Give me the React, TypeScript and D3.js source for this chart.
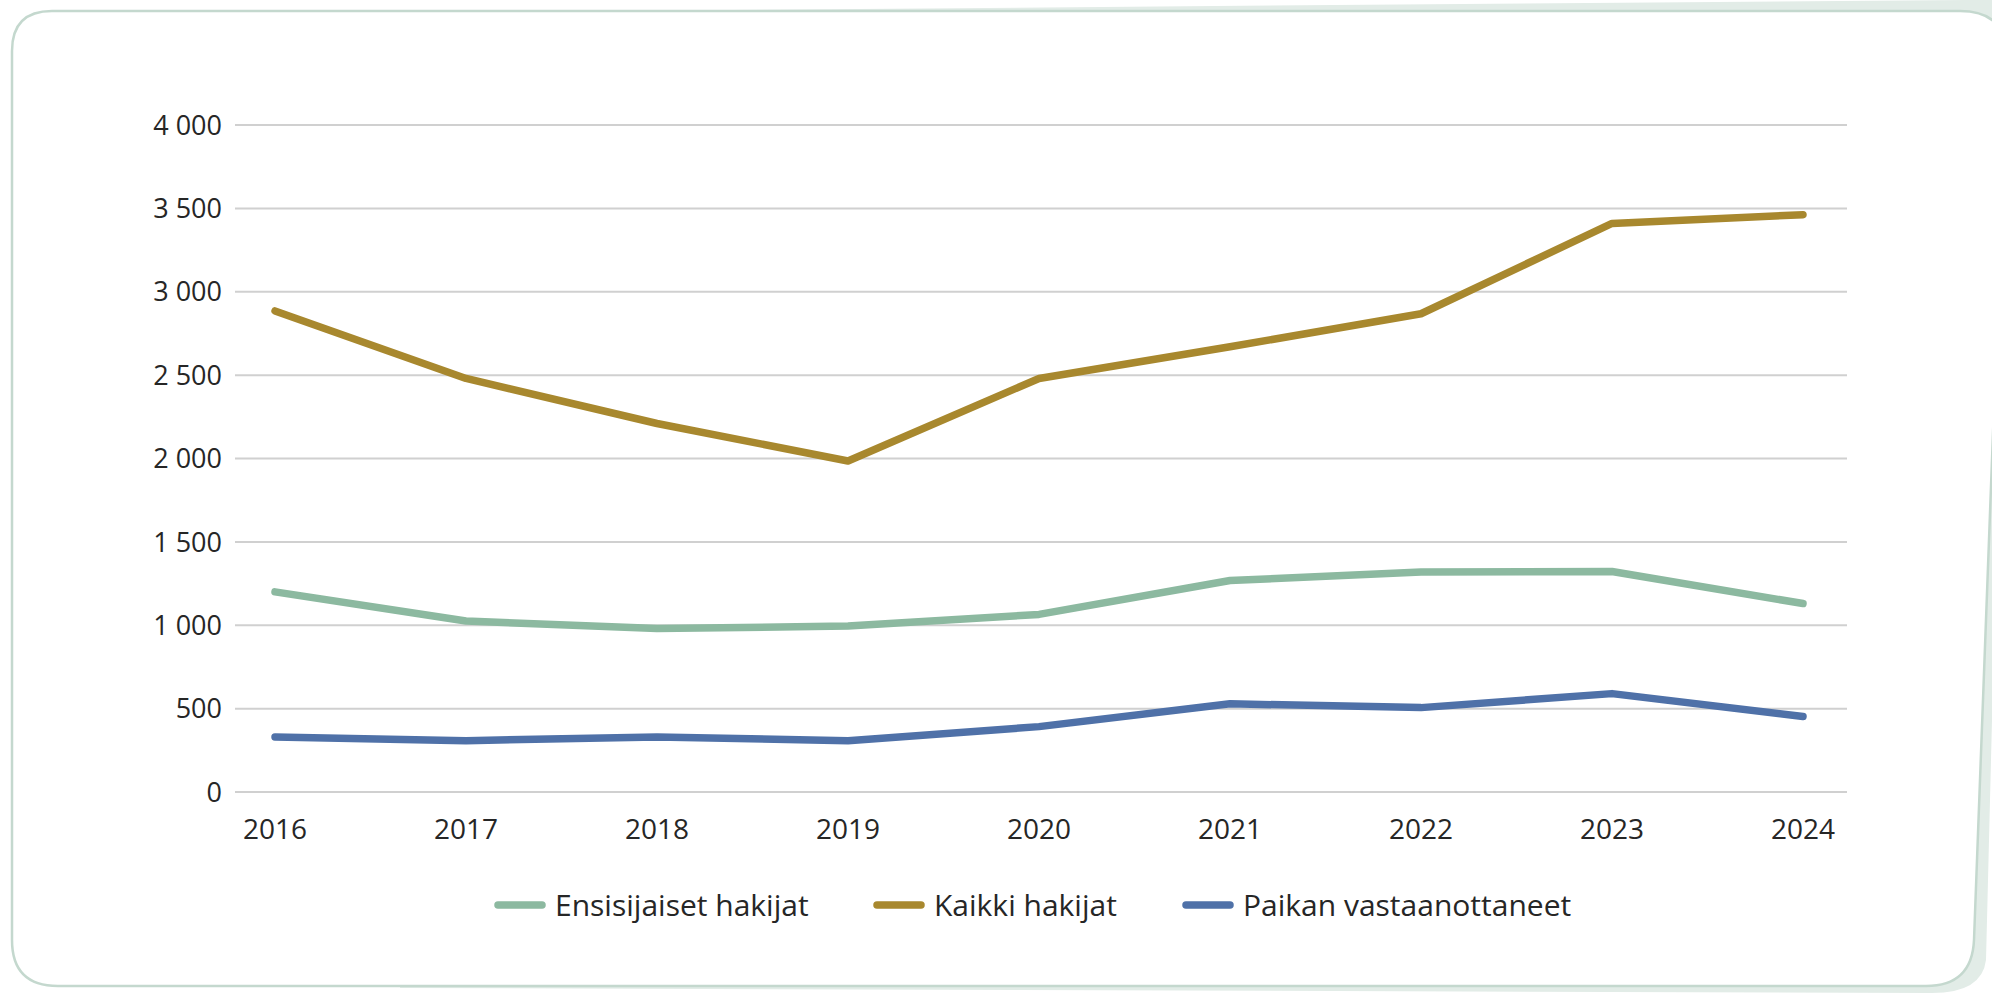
import React from 'react';
import * as d3 from 'd3';

// values
const years = ['2016', '2017', '2018', '2019', '2020', '2021', '2022', '2023', '2024'];
const ensisijaiset = [1200, 1025, 980, 995, 1065, 1268, 1320, 1322, 1130];
const kaikki = [2885, 2480, 2210, 1985, 2480, 2670, 2868, 3410, 3462];
const vastaanottaneet = [330, 308, 330, 308, 392, 529, 506, 590, 453];
const yTicks = [0, 500, 1000, 1500, 2000, 2500, 3000, 3500, 4000];

const seriesNames = ['Ensisijaiset hakijat', 'Kaikki hakijat', 'Paikan vastaanottaneet'];
const seriesColors = ['#8cb9a0', '#a8882e', '#4f71a8'];

const W = 1992;
const H = 993;

const fmt = (v: number) => d3.format(',')(v).replace(/,/g, ' ');

export default function App() {
    const x = d3.scalePoint<string>().domain(years).range([275, 1803]);
    const y = d3.scaleLinear().domain([0, 4000]).range([792, 125]);
    const gridLeft = 235;
    const gridRight = 1847;

    const line = d3.line<number>()
        .x((_, i) => x(years[i]) as number)
        .y(d => y(d));

    const series = [ensisijaiset, kaikki, vastaanottaneet];

    // legend layout
    const legendY = 905;
    const legendX = [495, 874, 1183];

    const font = "'Open Sans', sans-serif";

    return (
        <svg width={W} height={H} style={{ position: 'absolute', left: 0, top: 0, background: '#fff' }}>
            {/* soft green backdrop behind the card */}
            <path
                d="M600,11 L1966,0 L2010,0 L1986,960 Q1982,993 1932,993 L400,988 Z"
                fill="#e2ece7"
            />
            {/* card */}
            <path
                d="M52,11 L1960,11 Q2008,11 2007,60 L1974,940 Q1972,986 1926,986 L58,986 Q12,986 12,940 L12,51 Q12,11 52,11 Z"
                fill="#ffffff"
                stroke="#c4d8ce"
                strokeWidth={2.5}
            />

            {/* gridlines */}
            {yTicks.map(t => (
                <line key={t} x1={gridLeft} x2={gridRight} y1={y(t)} y2={y(t)} stroke="#d0d0d0" strokeWidth={2} />
            ))}

            {/* y labels */}
            {yTicks.map(t => (
                <text key={'l' + t} x={222} y={y(t)} dy="0.36em" textAnchor="end"
                    fontFamily={font} fontSize={27} fill="#262626">{fmt(t)}</text>
            ))}

            {/* x labels */}
            {years.map(yr => (
                <text key={yr} x={x(yr)} y={839} textAnchor="middle"
                    fontFamily={font} fontSize={28} fill="#262626">{yr}</text>
            ))}

            {/* series lines */}
            {series.map((s, i) => (
                <path key={seriesNames[i]} d={line(s) || ''} fill="none" stroke={seriesColors[i]}
                    strokeWidth={7.5} strokeLinecap="round" strokeLinejoin="round" />
            ))}

            {/* legend */}
            {seriesNames.map((name, i) => (
                <g key={name} transform={`translate(${legendX[i]},${legendY})`}>
                    <line x1={3} x2={47} y1={0} y2={0} stroke={seriesColors[i]} strokeWidth={7.5} strokeLinecap="round" />
                    <text x={60} y={0} dy="0.36em" fontFamily={font} fontSize={30} fill="#262626">{name}</text>
                </g>
            ))}
        </svg>
    );
}
